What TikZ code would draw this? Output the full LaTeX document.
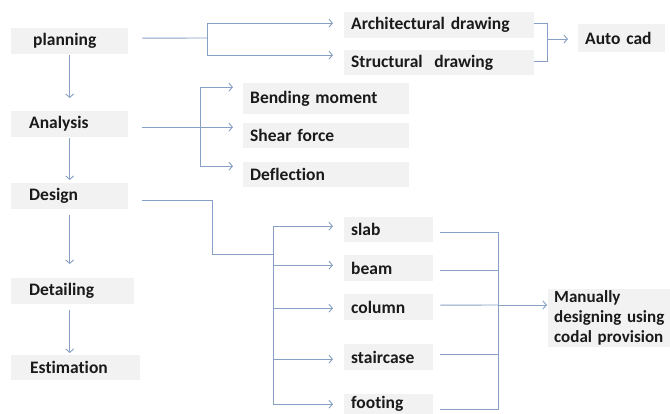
\documentclass[tikz,border=0pt]{standalone}
\usepackage{fontspec}
\setmainfont{Carlito}[Ligatures=NoCommon]
\usetikzlibrary{arrows.meta}
\definecolor{boxgray}{HTML}{F2F2F2}
\definecolor{lncol}{HTML}{869FC3}
\definecolor{txtcol}{HTML}{1A1A1A}
\begin{document}
\begin{tikzpicture}[x=1pt,y=-1pt,
  bx/.style n args={3}{fill=boxgray, anchor=north west, inner xsep=#3pt, inner ysep=0pt,
    text width=#1pt, minimum height=#2pt, align=left, text=txtcol,
    font=\bfseries\fontsize{17.5}{20}\selectfont},
  ln/.style={draw=lncol, line width=0.9pt},
  arr/.style={ln, -{Straight Barb[length=3.5pt,width=8pt]}}]
\useasboundingbox (0,0) rectangle (670,414);
% left column
\node[bx={73}{26}{22}] (plan) at (11,28) {planning};
\node[bx={81}{26}{18}] (ana) at (11,111) {Analysis};
\node[bx={81}{26}{18}] (des) at (11,183) {Design};
\node[bx={87}{26}{18}] (det) at (11,278) {Detailing};
\node[bx={91}{25}{19}] (est) at (11,355) {Estimation};
% planning branch
\node[bx={176}{26}{7}] (arch) at (344,12) {Architectural drawing};
\node[bx={176}{25}{7}] (struc) at (344,50) {Structural~~drawing};
\node[bx={73}{28}{7}] (cad) at (578,24) {Auto cad};
% analysis branch
\node[bx={152}{31}{7}] (bend) at (243,83) {Bending moment};
\node[bx={152}{25}{7}] (shear) at (243,123) {Shear force};
\node[bx={152}{25}{7}] (defl) at (243,162) {Deflection};
% design branch
\node[bx={75}{25}{7}] (slab) at (344,217) {slab};
\node[bx={75}{26}{7}] (beam) at (344,255) {beam};
\node[bx={75}{26}{7}] (column) at (344,294) {column};
\node[bx={75}{26}{7}] (stair) at (344,344) {staircase};
\node[bx={75}{20}{7}] (foot) at (344,394) {footing};
\node[bx={124}{58}{6}, font=\bfseries\fontsize{17}{20}\selectfont] (man) at (548,289) {Manually\\designing using\\codal provision};
% junction coordinates
\coordinate (pj) at (207,38);
\coordinate (aj) at (547,39);
\coordinate (anj) at (200,127);
\coordinate (dk) at (212,254);
\coordinate (dj) at (273,254);
\coordinate (mj) at (498,305);
% vertical arrows
\draw[arr, shorten <=1pt, shorten >=13pt] (plan.south) -- (ana.north);
\draw[arr, shorten <=1pt, shorten >=3pt] (ana.south) -- (des.north);
\draw[arr, shorten <=6pt, shorten >=14pt] (des.south) -- (des.south |- det.north);
\draw[arr, shorten <=6pt, shorten >=2pt] (des.south |- det.south) -- (des.south |- est.north);
% planning fork
\draw[ln, shorten <=14pt] ([yshift=3pt]plan.east) -- (pj);
\draw[arr, shorten >=11pt] (pj) |- ([yshift=2pt]arch.west);
\draw[arr, shorten >=11pt] (pj) |- ([yshift=7.5pt]struc.west);
% auto cad bracket
\draw[ln] ([yshift=2pt]arch.east) -| (aj);
\draw[ln] (aj) |- ([yshift=1.5pt]struc.east);
\draw[arr, shorten >=10pt] (aj) -- (aj -| cad.west);
% analysis fork
\draw[arr, shorten <=14pt, shorten >=10pt] ([yshift=-3pt]ana.east) -- ([yshift=8.5pt]shear.west);
\draw[arr, shorten >=10pt] (anj) |- ([yshift=11.5pt]bend.west);
\draw[arr, shorten >=10pt] (anj) |- ([yshift=8.5pt]defl.west);
% design fork
\draw[ln, shorten <=14pt] ([yshift=-4pt]des.east) -| (dk) -- (dj);
\draw[arr, shorten >=11pt] (dj) |- ([yshift=3.5pt]slab.west);
\draw[arr, shorten >=11pt] (dj) |- ([yshift=3pt]beam.west);
\draw[arr, shorten >=11pt] (dj) |- ([yshift=-1pt]column.west);
\draw[arr, shorten >=11pt] (dj) |- ([yshift=-2pt]stair.west);
\draw[arr, shorten >=11pt] (dj) |- (foot.west);
% manual bracket
\draw[ln, shorten <=7pt] ([yshift=-2.5pt]slab.east) -| (mj);
\draw[ln, shorten <=7pt] ([yshift=-2pt]beam.east) -| (mj);
\draw[ln, shorten <=7pt] ([yshift=2pt]column.east) -- (mj);
\draw[ln, shorten <=7pt] ([yshift=3pt]stair.east) -| (mj);
\draw[ln, shorten <=7pt] ([yshift=-5pt]foot.east) -| (mj);
\draw[arr, shorten >=1pt] (mj) -- (mj -| man.west);
\end{tikzpicture}
\end{document}
